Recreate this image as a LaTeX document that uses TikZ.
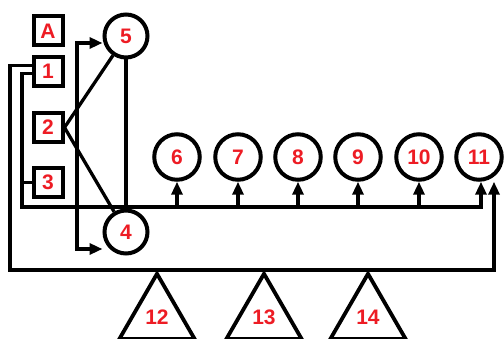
\documentclass[tikz,border=0pt]{standalone}
\usepackage{fontspec}
\setmainfont{Liberation Sans}
\usetikzlibrary{arrows.meta,shapes.geometric}
\definecolor{lblred}{RGB}{237,28,36}
\begin{document}
\begin{tikzpicture}[x=1pt,y=-1pt,
  lbl/.style={text=lblred,font=\fontsize{21}{21}\selectfont\bfseries},
  sqbox/.style={draw,line width=4pt,lbl,minimum size=29pt,inner sep=0pt},
  circ/.style={draw,line width=4pt,lbl,circle,minimum size=43pt,inner sep=0pt},
  bigcirc/.style={circ,minimum size=45.5pt},
  tri/.style={draw,line width=3.8pt,lbl,regular polygon,regular polygon sides=3,minimum size=87pt,inner sep=0pt,anchor=corner 1},
  wire/.style={line width=3.3pt,line join=miter},
  tip/.tip={Triangle[length=13pt,width=11pt]},
  arr/.style={wire,-tip},
  darr/.style={wire,tip-tip},
]
\useasboundingbox (0,0) rectangle (504,339);
% boxes
\node[sqbox] (nA) at (48,31) {A};
\node[sqbox] (n1) at (48,71.5) {1};
\node[sqbox] (n2) at (48,127.5) {2};
\node[sqbox] (n3) at (48,182.5) {3};
% circles
\node[circ] (n5) at (126,36) {5};
\node[circ] (n4) at (126,232) {4};
\node[bigcirc] (n6) at (177,157) {6};
\node[bigcirc] (n7) at (238,157) {7};
\node[bigcirc] (n8) at (298,157) {8};
\node[bigcirc] (n9) at (358,157) {9};
\node[bigcirc] (n10) at (419,157) {10};
\node[bigcirc] (n11) at (479,157) {11};
% triangles
\node[tri] (n12) at (157,270) {12};
\node[tri] (n13) at (264,270) {13};
\node[tri] (n14) at (368,270) {14};
% coordinates of bends
\coordinate (busL) at (22,207);
\coordinate (outL) at (10,270);
\coordinate (outR) at (494,270);
\coordinate (vT) at (77,43);
\coordinate (vB) at (77,249);
% connectors
\draw[wire] (n2.east) -- (n5);
\draw[wire] (n2.east) -- (n4);
\draw[wire] (n5) -- (n4);
\draw[darr] (n5.west |- vT) -- (vT) -- (vB) -- (n4.west |- vB);
\draw[arr] ([yshift=-2pt]n1.west) -| (busL) -| ([xshift=2pt]n11.south);
\draw[wire] (n3.west) -- (n3.west -| busL);
\foreach \n in {6,...,10} \draw[arr] (n\n.south |- busL) -- (n\n.south);
\draw[arr] ([yshift=6pt]n1.west) -| (outL) -- (outR) -- (outR |- n11.south);
\end{tikzpicture}
\end{document}
